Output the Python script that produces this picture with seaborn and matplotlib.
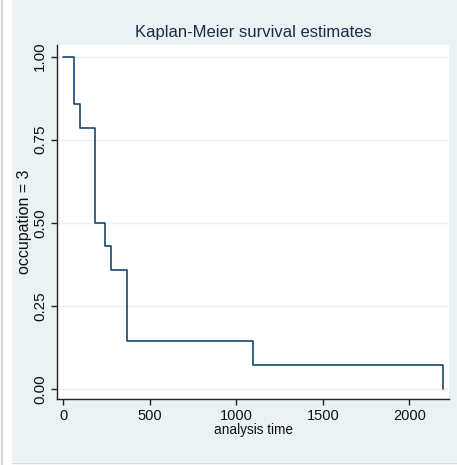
import matplotlib
matplotlib.use("Agg")
import matplotlib.pyplot as plt
import seaborn as sns
import pandas as pd
from matplotlib.patches import Rectangle
from matplotlib.lines import Line2D

# Data (Kaplan-Meier step function)
times = [0, 60, 95, 185, 243, 274, 366, 1098, 2193]
survival = [1.0, 0.857, 0.786, 0.5, 0.429, 0.357, 0.143, 0.071, 0.0]
yticks = [0.00, 0.25, 0.50, 0.75, 1.00]
ytick_labels = ["0.00", "0.25", "0.50", "0.75", "1.00"]
xticks = [0, 500, 1000, 1500, 2000]

sns.set_theme(style="white")
plt.rcParams['font.family'] = ['Liberation Sans Narrow', 'Liberation Sans', 'DejaVu Sans']

W, H = 457, 465
fig = plt.figure(figsize=(W / 100, H / 100), dpi=100, facecolor="white")

# Stata-like background panel drawn in a back axes
bg = fig.add_axes([0, 0, 1, 1], zorder=-5)
bg.set_xlim(0, W)
bg.set_ylim(H, 0)
bg.axis("off")
bg.add_patch(Rectangle((12, 0), W - 12, H - 3, facecolor="#eaf2f3", edgecolor="none"))
bg.add_line(Line2D([2, 2], [0, H], color="#c8c8c8", lw=1.2))
bg.add_line(Line2D([12, W], [H - 2, H - 2], color="#d8d8d8", lw=1.0))

ax = fig.add_axes([57 / W, (H - 399) / H, (449 - 57) / W, (399 - 45) / H], zorder=1)
ax.set_facecolor("white")

df = pd.DataFrame({"time": times, "surv": survival})
sns.lineplot(data=df, x="time", y="surv", drawstyle="steps-post",
             color="#1a476f", linewidth=1.2, ax=ax)

ax.set_xlim(-37, 2230)
ax.set_ylim(-0.03, 1.035)
ax.set_xticks(xticks)
ax.set_xticklabels([str(t) for t in xticks], fontsize=10.5, color="#111111")
ax.set_yticks(yticks)
ax.set_yticklabels(ytick_labels, fontsize=11, color="#111111", rotation=90, va="center")
for y in yticks:
    ax.axhline(y, color="#eaf2f3", lw=1.0, zorder=0)

for s in ["top", "right"]:
    ax.spines[s].set_visible(False)
for s in ["left", "bottom"]:
    ax.spines[s].set_color("#222222")
    ax.spines[s].set_linewidth(1.0)
ax.tick_params(axis="both", direction="out", length=4, width=1, color="#222222", pad=3,
               bottom=True, left=True)

ax.set_xlabel("analysis time", fontsize=9.8, color="#111111", labelpad=0)
ax.set_ylabel("occupation = 3", fontsize=11.5, color="#111111")
ax.yaxis.set_label_coords(-0.064, 0.5)
ax.set_title("Kaplan-Meier survival estimates", fontsize=12, color="#1e2a4a", pad=6)

fig.savefig("out.png", dpi=100, facecolor="white")
